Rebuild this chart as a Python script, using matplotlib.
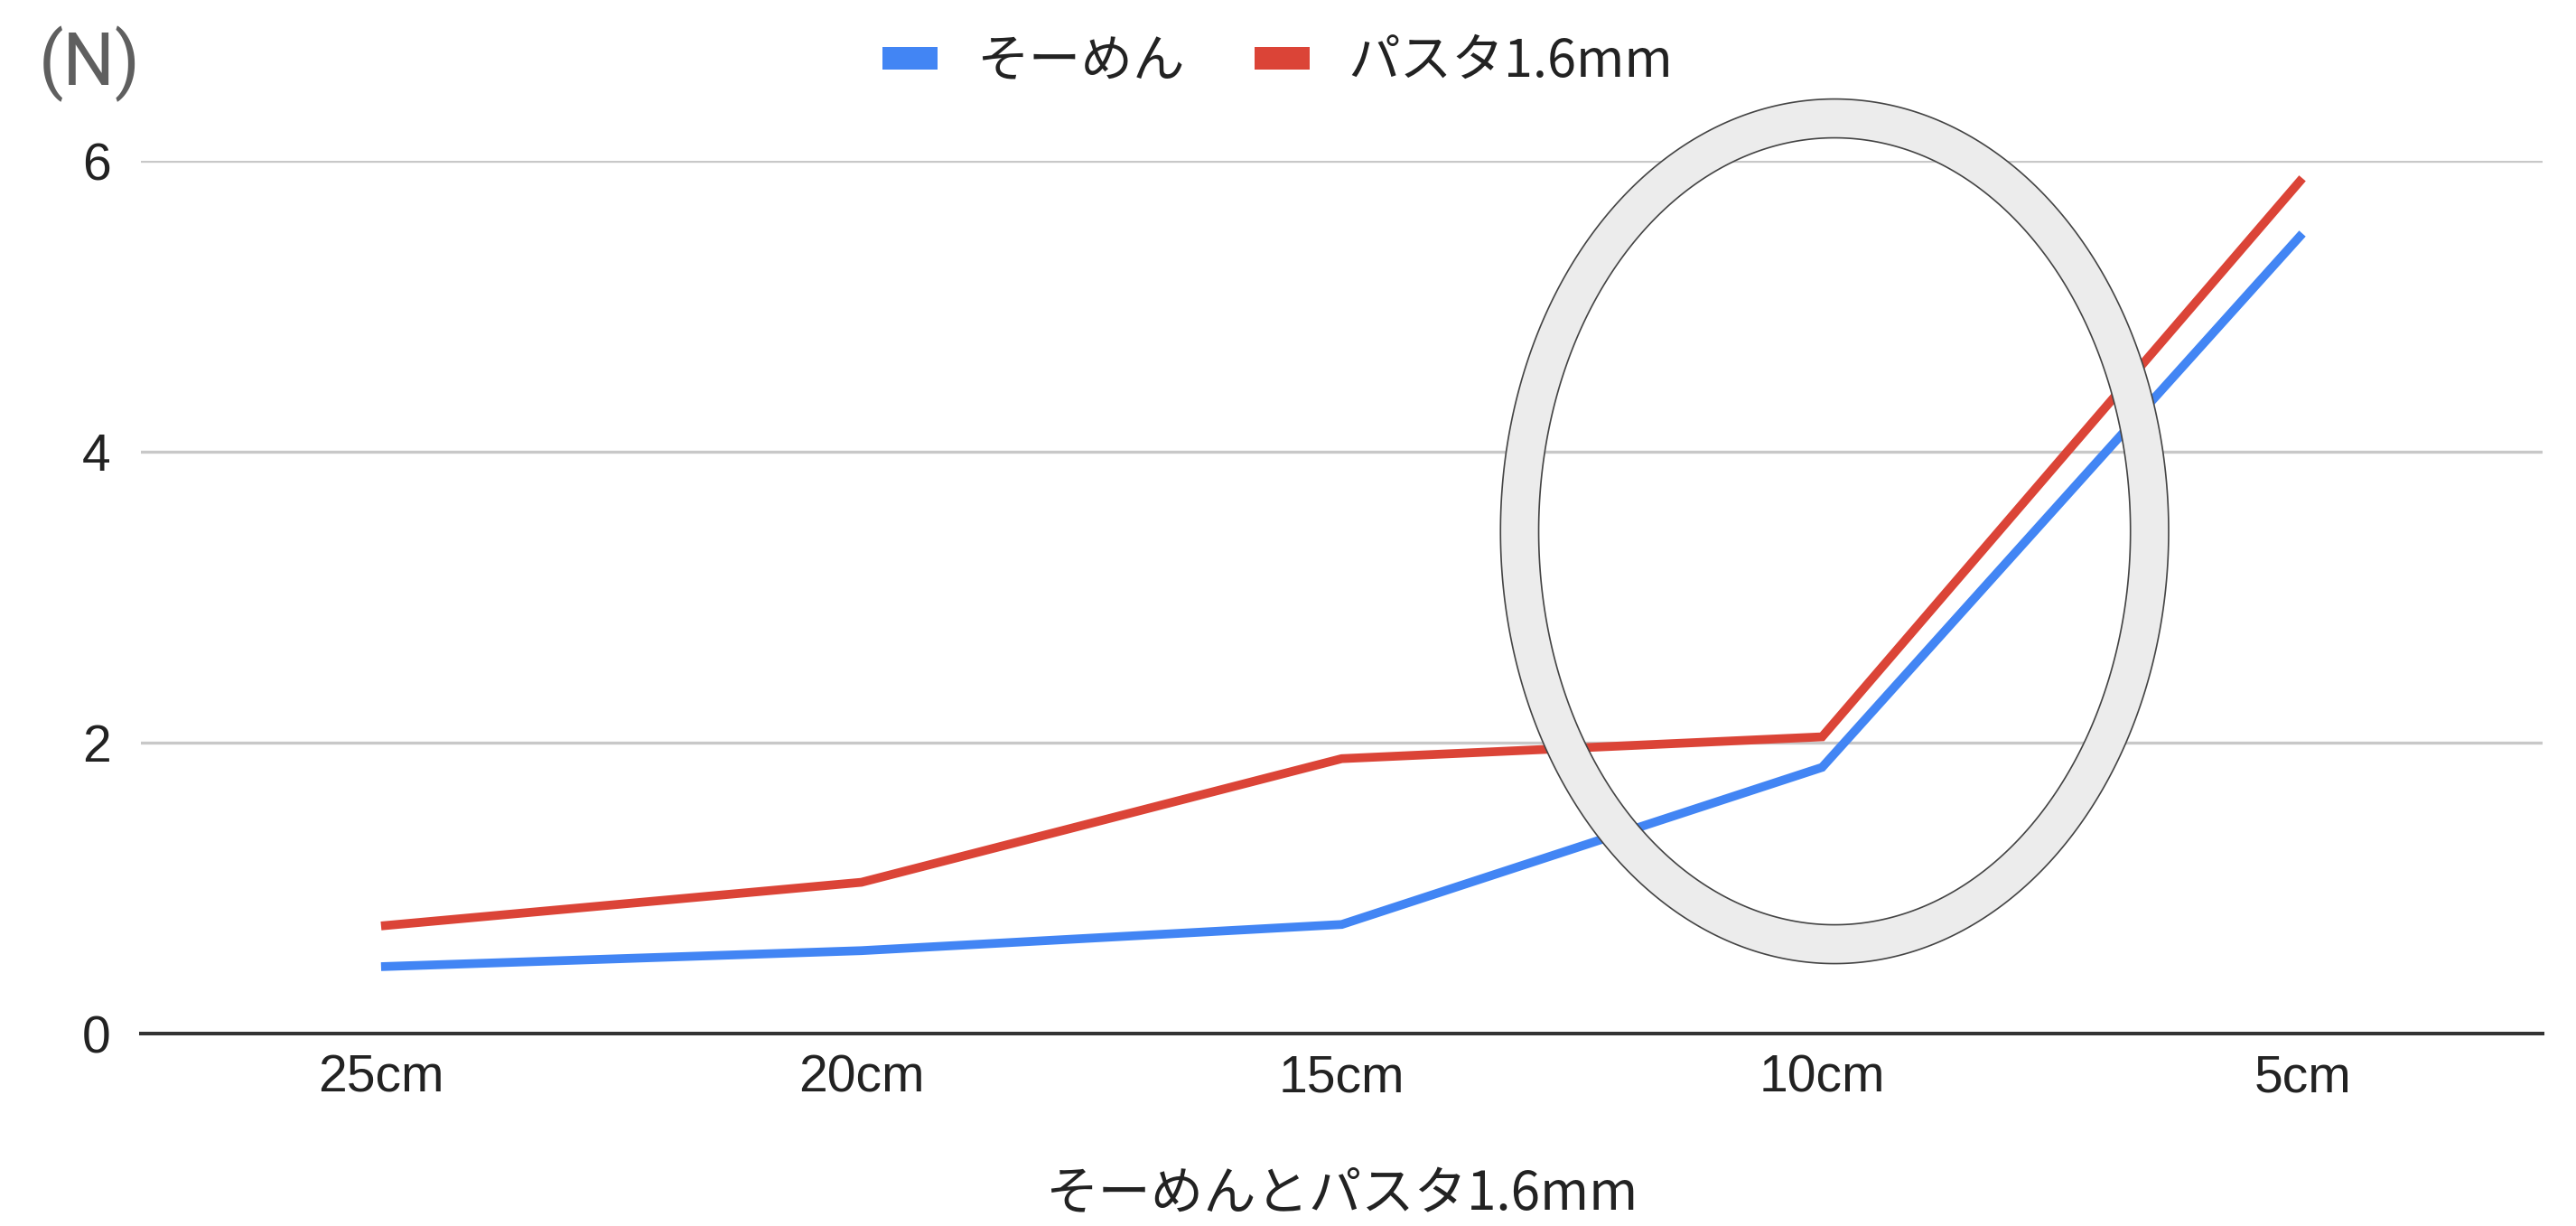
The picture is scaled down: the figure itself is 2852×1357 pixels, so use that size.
import numpy as np
import matplotlib
matplotlib.use("Agg")
import matplotlib.pyplot as plt
from matplotlib.patches import Patch, PathPatch
from matplotlib.path import Path

# Breaking force (N) by span length
categories = ["25cm", "20cm", "15cm", "10cm", "5cm"]
somen = [0.46, 0.57, 0.75, 1.83, 5.50]
pasta = [0.74, 1.04, 1.89, 2.04, 5.88]
series_names = ["そーめん", "パスタ1.6mm"]
y_ticks = [0, 2, 4, 6]
x_title = "そーめんとパスタ1.6mm"
unit_label = "(N)"

BLUE = "#4285F4"
RED = "#DB4437"
CJK = ["Noto Sans CJK JP", "DejaVu Sans"]
LATIN = ["Liberation Sans", "DejaVu Sans"]

W, H, DPI = 2852, 1357, 100
fig = plt.figure(figsize=(W / DPI, H / DPI), dpi=DPI, facecolor="white")

left, right = 156 / W, 2815 / W
bottom, top = 1 - 1144 / H, 1 - 178 / H
ax = fig.add_axes([left, bottom, right - left, top - bottom])

x = np.arange(len(categories))
ax.plot(x, somen, color=BLUE, lw=7, solid_capstyle="butt", solid_joinstyle="miter", zorder=3)
ax.plot(x, pasta, color=RED, lw=7, solid_capstyle="butt", solid_joinstyle="miter", zorder=3)

ax.set_xlim(-0.5, len(categories) - 0.5)
ax.set_ylim(0, 6)
ax.set_xticks(x)
ax.set_xticklabels(categories)
ax.set_yticks(y_ticks)
ax.set_yticklabels([str(v) for v in y_ticks])
ax.tick_params(axis="both", length=0, labelsize=41, labelcolor="#222222")
ax.tick_params(axis="x", pad=16)
ax.tick_params(axis="y", pad=24)
for lab in ax.get_xticklabels() + ax.get_yticklabels():
    lab.set_family(LATIN)

ax.yaxis.grid(True, color="#c8c8c8", lw=2.4)
ax.set_axisbelow(True)
for side in ("top", "right", "left"):
    ax.spines[side].set_visible(False)
ax.spines["bottom"].set_color("#333333")
ax.spines["bottom"].set_linewidth(2.9)
ax.spines["bottom"].set_zorder(2.5)

# Highlight ring around the 10cm point
cx, cy = 3.026, 3.453
t = np.linspace(0, 2 * np.pi, 600)
outer = np.column_stack([cx + 1.391 / 2 * np.cos(t), cy + 5.944 / 2 * np.sin(t)])
inner = np.column_stack([cx + 1.232 / 2 * np.cos(t), cy + 5.41 / 2 * np.sin(t)])[::-1]
verts = np.vstack([outer, inner])
codes = ([Path.MOVETO] + [Path.LINETO] * (len(t) - 2) + [Path.CLOSEPOLY]) * 2
ring = PathPatch(Path(verts, codes), facecolor="#ececec", edgecolor="#444444",
                 lw=1.2, zorder=4, clip_on=False)
ax.add_patch(ring)

# Legend
handles = [Patch(facecolor=BLUE, edgecolor="none"), Patch(facecolor=RED, edgecolor="none")]
leg = fig.legend(handles, series_names, loc="center left",
                 bbox_to_anchor=(977 / W, 1 - 69 / H), ncol=2, frameon=False,
                 handlelength=1.05, handleheight=0.31, handletextpad=0.75,
                 columnspacing=1.35, borderpad=0, borderaxespad=0,
                 prop={"family": CJK, "size": 41.5})
for txt in leg.get_texts():
    txt.set_color("#222222")

fig.text(43 / W, 1 - 71 / H, unit_label, ha="left", va="center", fontsize=58,
         color="#5f5f5f", family=["Roboto", "DejaVu Sans"])
fig.text((left + right) / 2, 1 - 1322 / H, x_title, ha="center", va="center",
         fontsize=42, color="#222222", family=CJK)

fig.savefig("out.png", dpi=DPI, facecolor="white")
